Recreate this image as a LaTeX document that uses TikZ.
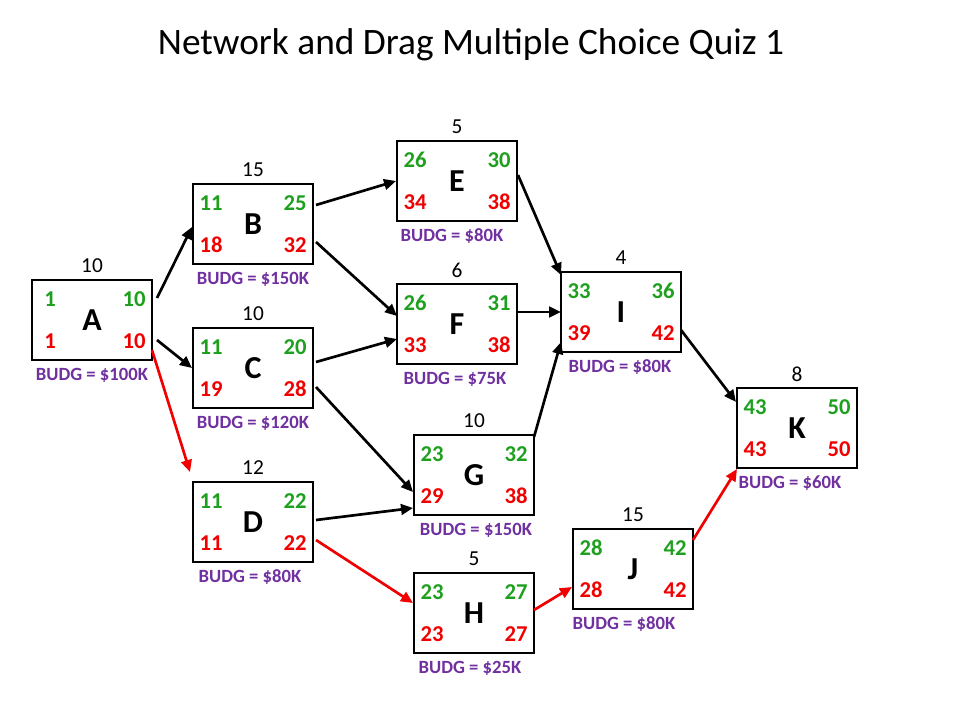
\documentclass[tikz,border=0pt]{standalone}
\usepackage{fontspec}
\setmainfont{Carlito}
\usetikzlibrary{calc,arrows.meta}
\definecolor{tgreen}{RGB}{30,160,30}
\definecolor{tred}{RGB}{240,0,0}
\definecolor{tpurple}{RGB}{112,48,160}
\tikzset{
 taskbox/.style={draw=black,line width=2pt,minimum width=90pt,minimum height=60pt,inner sep=0pt,font=\fontsize{24}{26}\selectfont\bfseries},
 es/.style={text=tgreen,font=\fontsize{17}{19}\selectfont\bfseries,inner sep=0pt},
 ls/.style={text=tred,font=\fontsize{17}{19}\selectfont\bfseries,inner sep=0pt},
 dur/.style={font=\fontsize{16}{18}\selectfont,inner sep=0pt},
 budg/.style={text=tpurple,font=\fontsize{14}{16}\selectfont\bfseries,inner sep=0pt},
 arr/.style={line width=2pt,-{Triangle[length=9pt,width=8pt]}},
 crit/.style={arr,draw=tred,-{Triangle[length=9pt,width=8pt,fill=tred]}}
}
\newcommand{\mytask}[9]{%
 \node[taskbox] (#1) at (#2) {#1};
 \node[es] (#1es) at ($(#1)+(-42,-21)$) {#4};
 \node[es] (#1ef) at ($(#1)+(42,-21)$) {#5};
 \node[ls] (#1ls) at ($(#1)+(-42,21)$) {#6};
 \node[ls] (#1lf) at ($(#1)+(42,21)$) {#7};
 \node[dur] (#1d) at ($(#1)+(0,-54)$) {#3};
 \node[budg] (#1b) at ($(#1)+(#9,55)$) {BUDG = \$#8K};
}
\begin{document}
\begin{tikzpicture}[x=0.75pt,y=-0.75pt]
\useasboundingbox (0,0) rectangle (960,720);
\node[font=\fontsize{28}{32}\selectfont] (title) at (471,45) {Network and Drag Multiple Choice Quiz 1};
\mytask{A}{92,320}{10}{1}{10}{1}{10}{100}{0}
\mytask{B}{253,224}{15}{11}{25}{18}{32}{150}{0}
\mytask{C}{253,368}{10}{11}{20}{19}{28}{120}{0}
\mytask{D}{253,522}{12}{11}{22}{11}{22}{80}{-3}
\mytask{E}{457,181}{5}{26}{30}{34}{38}{80}{-5}
\mytask{F}{457,324}{6}{26}{31}{33}{38}{75}{-2}
\mytask{G}{474,475}{10}{23}{32}{29}{38}{150}{2}
\mytask{H}{474,613}{5}{23}{27}{23}{27}{25}{-4}
\mytask{I}{621,312}{4}{33}{36}{39}{42}{80}{-1}
\mytask{J}{633,569}{15}{28}{42}{28}{42}{80}{-9}
\mytask{K}{797,428}{8}{43}{50}{43}{50}{60}{-7}
\draw[arr] ($(A)+(65,-22)$) -- ($(B)+(-61,3)$);
\draw[arr] ($(A)+(65,20)$) -- ($(C)+(-61,0)$);
\draw[crit] ($(A)+(60,30)$) -- ($(D)+(-63,-50)$);
\draw[arr] ($(B)+(63,-19)$) -- ($(E)+(-61,0)$);
\draw[arr] ($(B)+(63,18)$) -- ($(F)+(-60,-8)$);
\draw[arr] ($(C)+(63,-6)$) -- ($(F)+(-60,15)$);
\draw[arr] ($(C)+(63,19)$) -- ($(G)+(-61,17)$);
\draw[arr] ($(D)+(63,-2)$) -- ($(G)+(-61,33)$);
\draw[crit] ($(D)+(63,18)$) -- ($(H)+(-61,-10)$);
\draw[arr] ($(E)+(61,-6)$) -- ($(I)+(-60,-37)$);
\draw[arr] ($(F)+(61,-12)$) -- ($(I)+(-60,0)$);
\draw[arr] ($(G)+(60,-38)$) -- ($(I)+(-60,30)$);
\draw[arr] ($(I)+(60,18)$) -- ($(K)+(-61,-26)$);
\draw[crit] ($(H)+(60,-3)$) -- ($(J)+(-61,18)$);
\draw[crit] ($(J)+(60,-29)$) -- ($(K)+(-60,41)$);
\end{tikzpicture}
\end{document}
